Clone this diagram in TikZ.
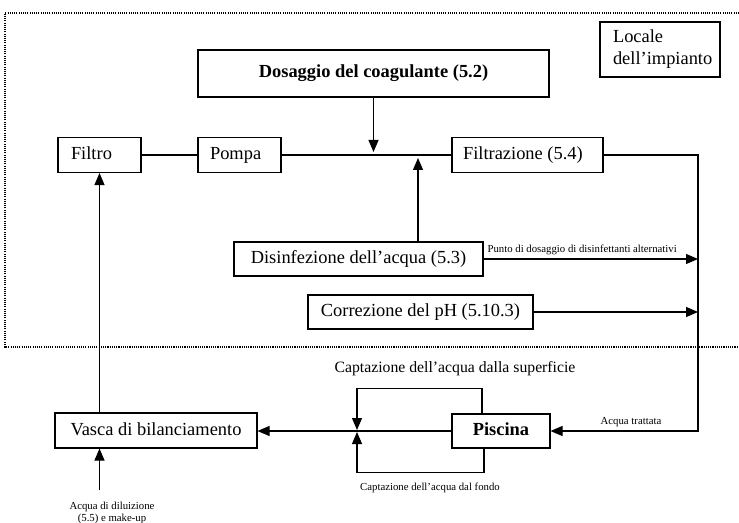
\documentclass[tikz,border=0pt]{standalone}
\usepackage{fontspec}
\setmainfont{Liberation Serif}
\usetikzlibrary{arrows.meta,calc}
\newcommand{\myBig}{\fontsize{18.5}{22}\selectfont}
\newcommand{\myMid}{\fontsize{15.8}{19}\selectfont}
\newcommand{\mySmall}{\fontsize{10.8}{12.5}\selectfont}
\begin{document}
\begin{tikzpicture}[x=1bp,y=-1bp,
  box/.style={draw, line width=1.1bp, inner sep=0pt, font=\myBig},
  onel/.style={box, text height=13bp, text depth=4bp},
  conn/.style={line width=1.1bp},
  arr/.style={conn, -{Triangle[length=12bp,width=10bp]}},
  frame/.style={line width=1.2bp, dash pattern=on 1.1bp off 1.1bp},
  lab/.style={inner sep=0pt, font=\mySmall}]
\useasboundingbox (0,0) rectangle (739,523);
\draw[frame] (739,13) -- (5,13) -- (5,347) -- (739,347);

\node[onel, minimum width=351bp, minimum height=47bp, font=\myBig\bfseries] (dos) at (373.5,73.5) {Dosaggio del coagulante (5.2)};
\node[box, inner xsep=13bp, minimum height=55bp] (loc) at (660,49.5) {\parbox{94bp}{\raggedright Locale\\dell’impianto}};
\node[onel, inner xsep=13bp, minimum height=35bp] (filtro) at (99.5,155) {\makebox[57bp][l]{Filtro}};
\node[onel, inner xsep=12bp, minimum height=35bp] (pompa) at (239.5,155) {\makebox[59bp][l]{Pompa}};
\node[onel, inner xsep=11bp, minimum height=35bp] (filtraz) at (527.5,155) {\makebox[129bp][l]{Filtrazione (5.4)}};
\node[onel, minimum width=249bp, minimum height=34bp] (dis) at (358.5,259) {Disinfezione dell’acqua (5.3)};
\node[onel, minimum width=225bp, minimum height=34bp] (cor) at (420.5,312) {Correzione del pH (5.10.3)};
\node[onel, minimum width=202bp, minimum height=35bp] (vasca) at (156,430.5) {Vasca di bilanciamento};
\node[onel, minimum width=98bp, minimum height=34bp, font=\myBig\bfseries] (pis) at (501,431) {Piscina};

\coordinate (c1) at (698,155);
\coordinate (c2) at (698,431);
\coordinate (up) at (418,158);
\coordinate (dn) at (373.5,152);
\coordinate (mt) at (357,430);
\coordinate (mb) at (357,432);
\coordinate (src) at (99.5,490);

\draw[conn] (filtro.east) -- (pompa.west);
\draw[conn] (pompa.east) -- (filtraz.west);
\draw[arr] (dos.south) -- (dn);
\draw[arr] (dis.north -| up) -- (up);
\draw[arr] (filtraz.east) -- (c1) -- (c2) -- (pis.east);
\draw[arr] (dis.east) -- (dis.east -| c1)
  node[lab, pos=0.46, above=4bp] {Punto di dosaggio di disinfettanti alternativi};
\draw[arr] (cor.east) -- (cor.east -| c1);
\draw[arr] (pis.west) -- (vasca.east |- pis.west);
\draw[arr] ([xshift=-19bp]pis.north) -- ++(0,-25) -| (mt);
\draw[arr] ([xshift=-17bp]pis.south) -- ++(0,24) -| (mb);
\draw[arr] (vasca.north -| filtro.south) -- (filtro.south);
\draw[arr] (src) -- (src |- vasca.south);

\node[lab, font=\myMid] (capsup) at (455,369) {Captazione dell’acqua dalla superficie};
\node[lab] (capfon) at (430,488) {Captazione dell’acqua dal fondo};
\node[lab] (acqtr) at (631,422) {Acqua trattata};
\node[lab, align=center] (dil) at (112,513) {Acqua di diluizione\\(5.5) e make-up};
\end{tikzpicture}
\end{document}
